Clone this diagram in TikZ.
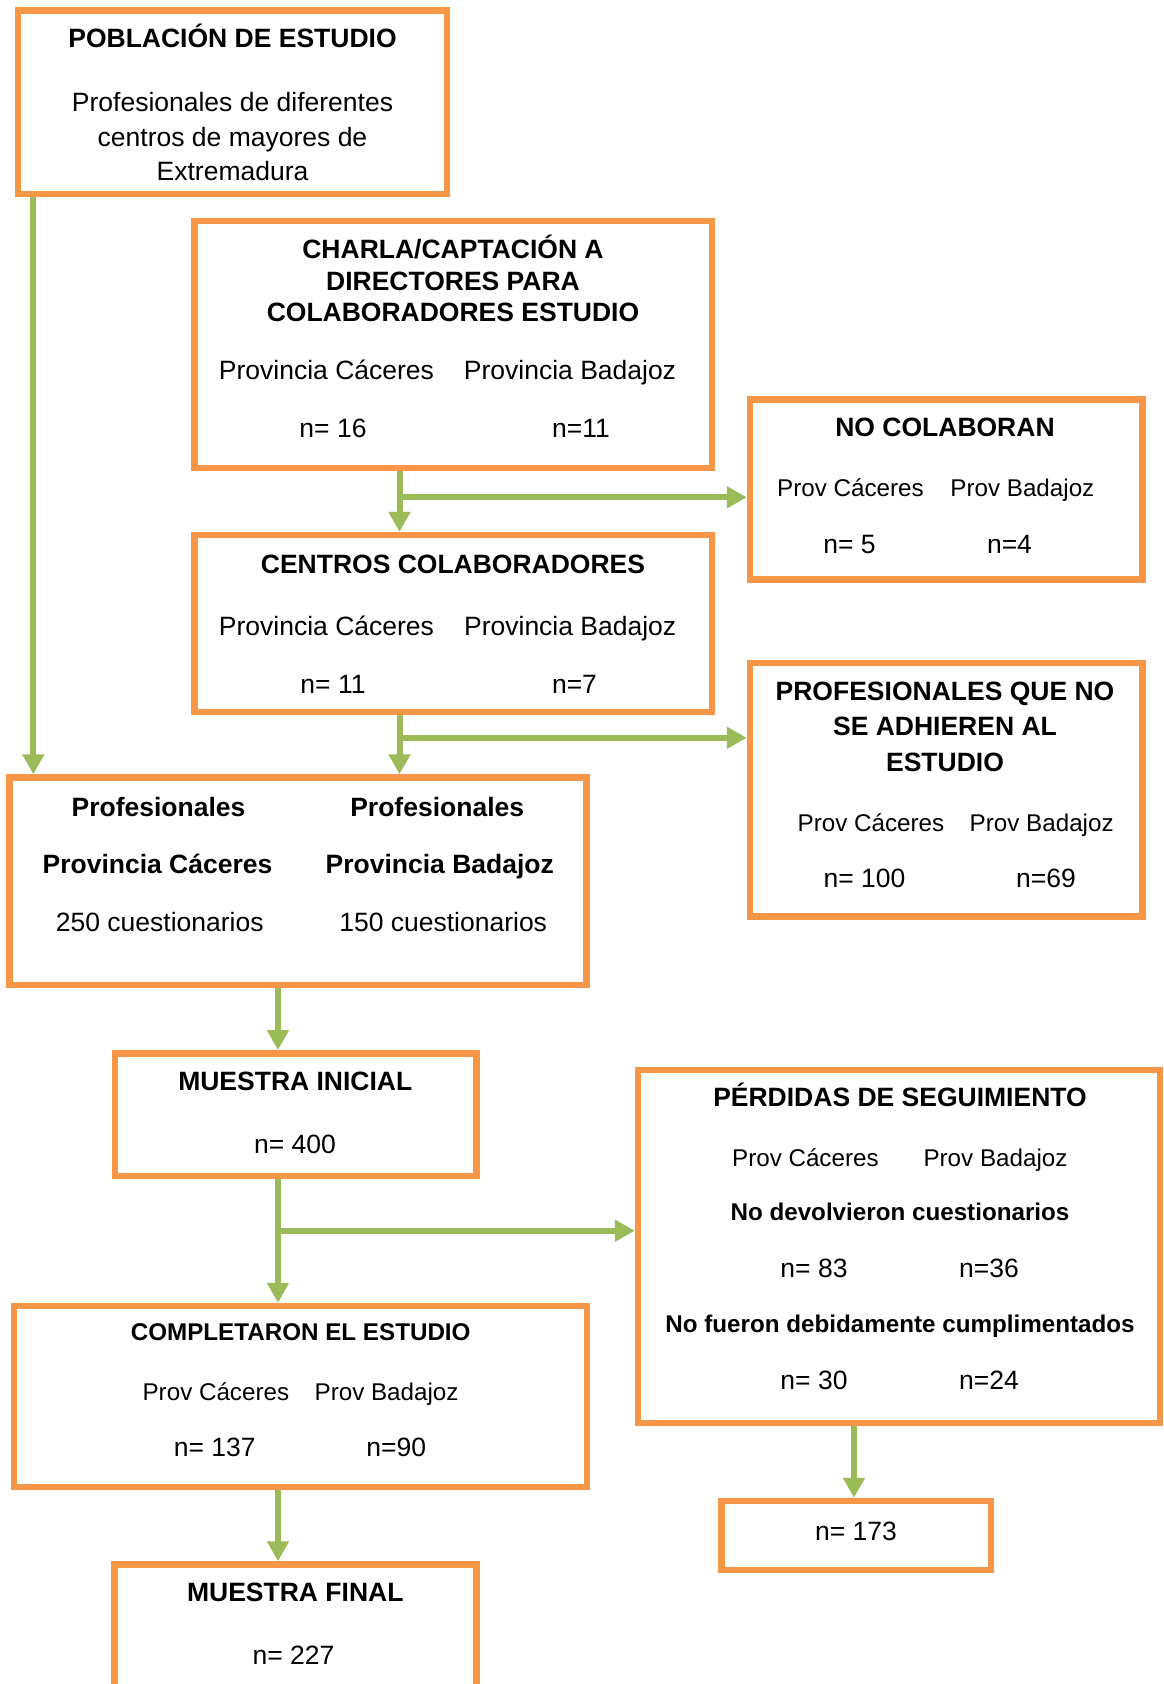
\documentclass[tikz,border=0pt]{standalone}
\usepackage{fontspec}
\setmainfont{Liberation Sans}
\usetikzlibrary{arrows.meta}
\definecolor{boxorange}{HTML}{F79646}
\definecolor{flowgreen}{HTML}{9BBB59}

\begin{document}
\begin{tikzpicture}[x=1pt,y=-1pt,
  box/.style={draw=boxorange,line width=6.5pt,rectangle,inner sep=0pt},
  link/.style={draw=flowgreen,line width=6pt},
  arr/.style={link,-{Triangle[width=21pt,length=20pt]}},
  txt/.style={anchor=base,inner sep=0pt,font=\fontsize{26.5}{31}\selectfont},
  hd/.style={txt,font=\fontsize{26.5}{31}\selectfont\bfseries},
  sm/.style={txt,font=\fontsize{24.2}{29}\selectfont},
  smhd/.style={txt,font=\fontsize{24.2}{29}\selectfont\bfseries}]

\useasboundingbox (0,0) rectangle (1163,1684);
\clip (0,0) rectangle (1163,1684);

% ---------- boxes ----------
\node[box,minimum width=429pt,minimum height=183.5pt]   (pob)     at (232.5,102.25) {};
\node[box,minimum width=517.5pt,minimum height=247pt]   (charla)  at (453.25,344.5) {};
\node[box,minimum width=392.5pt,minimum height=180pt]   (nocol)   at (946.25,489.3) {};
\node[box,minimum width=517.5pt,minimum height=177pt]   (centros) at (453.25,623.5) {};
\node[box,minimum width=392.5pt,minimum height=253.7pt] (adh)     at (946.25,789.85) {};
\node[box,minimum width=577pt,minimum height=207.5pt]   (prof)    at (298.2,881.25) {};
\node[box,minimum width=361.7pt,minimum height=122.7pt] (mi)      at (295.85,1114.65) {};
\node[box,minimum width=522pt,minimum height=353pt]     (perd)    at (899,1246.5) {};
\node[box,minimum width=269.6pt,minimum height=69pt]    (nfin)    at (856.4,1535.5) {};
\node[box,minimum width=573pt,minimum height=181pt]     (comp)    at (300.5,1396.5) {};
\node[box,minimum width=362.2pt,minimum height=155.5pt] (mf)      at (295.6,1642.25) {};

% ---------- texts ----------
\node[hd]  (pobT)  at (232.5,47.5)  {POBLACIÓN DE ESTUDIO};
\node[txt] (pobA)  at (232.5,111.5) {Profesionales de diferentes};
\node[txt] (pobB)  at (232.5,146)   {centros de mayores de};
\node[txt] (pobC)  at (232.5,180.5) {Extremadura};

\node[hd]  (chT1)  at (453,258.5)   {CHARLA/CAPTACIÓN A};
\node[hd]  (chT2)  at (453,290)   {DIRECTORES PARA};
\node[hd]  (chT3)  at (453,321)   {COLABORADORES ESTUDIO};
\node[txt] (chPC)  at (326.5,379) {Provincia Cáceres};
\node[txt] (chPB)  at (570,379)   {Provincia Badajoz};
\node[txt] (chNC)  at (333,437.5)   {n= 16};
\node[txt] (chNB)  at (581,437.5)   {n=11};

\node[hd]  (ncT)   at (945,436.8)   {NO COLABORAN};
\node[sm]  (ncPC)  at (850.5,496.5) {Prov Cáceres};
\node[sm]  (ncPB)  at (1022.4,496.5){Prov Badajoz};
\node[txt] (ncNC)  at (849.5,553.5) {n= 5};
\node[txt] (ncNB)  at (1009.5,553.5){n=4};

\node[hd]  (ceT)   at (453,573.1)   {CENTROS COLABORADORES};
\node[txt] (cePC)  at (326.5,635.4) {Provincia Cáceres};
\node[txt] (cePB)  at (570.2,635.4) {Provincia Badajoz};
\node[txt] (ceNC)  at (333,693.4)   {n= 11};
\node[txt] (ceNB)  at (574.5,693.4) {n=7};

\node[hd]  (adT1)  at (945,700)     {PROFESIONALES QUE NO};
\node[hd]  (adT2)  at (945,735.5)   {SE ADHIEREN AL};
\node[hd]  (adT3)  at (945,771)     {ESTUDIO};
\node[sm]  (adPC)  at (871,831.5)   {Prov Cáceres};
\node[sm]  (adPB)  at (1041.7,831.5){Prov Badajoz};
\node[txt] (adNC)  at (864.5,887.3) {n= 100};
\node[txt] (adNB)  at (1046,887.3)  {n=69};

\node[hd]  (prA1)  at (158.5,816)   {Profesionales};
\node[hd]  (prB1)  at (437.2,816)   {Profesionales};
\node[hd]  (prA2)  at (157.5,873)   {Provincia Cáceres};
\node[hd]  (prB2)  at (439.8,873)   {Provincia Badajoz};
\node[txt] (prA3)  at (159.8,931)   {250 cuestionarios};
\node[txt] (prB3)  at (443.2,931)   {150 cuestionarios};

\node[hd]  (miT)   at (295.3,1090.8) {MUESTRA INICIAL};
\node[txt] (miN)   at (295,1153)     {n= 400};

\node[hd]  (peT)   at (900,1106.8)   {PÉRDIDAS DE SEGUIMIENTO};
\node[sm]  (pePC)  at (805.4,1166.5) {Prov Cáceres};
\node[sm]  (pePB)  at (995.5,1166.5) {Prov Badajoz};
\node[smhd](peD)   at (900,1220.7)   {No devolvieron cuestionarios};
\node[txt] (peDC)  at (814,1277.6)   {n= 83};
\node[txt] (peDB)  at (989,1277.6)   {n=36};
\node[smhd](peF)   at (900,1332.4)   {No fueron debidamente cumplimentados};
\node[txt] (peFC)  at (814,1389.3)   {n= 30};
\node[txt] (peFB)  at (989,1389.3)   {n=24};

\node[txt] (nfN)   at (856,1540.7)   {n= 173};

\node[smhd](coT)   at (300.7,1340.5) {COMPLETARON EL ESTUDIO};
\node[sm]  (coPC)  at (215.9,1400.5) {Prov Cáceres};
\node[sm]  (coPB)  at (386.6,1400.5) {Prov Badajoz};
\node[txt] (coNC)  at (214.8,1456)   {n= 137};
\node[txt] (coNB)  at (396.3,1456)   {n=90};

\node[hd]  (mfT)   at (295.3,1601.8) {MUESTRA FINAL};
\node[txt] (mfN)   at (293.5,1664.5) {n= 227};

% ---------- connectors ----------
\coordinate (xL)  at (33.3,0);
\coordinate (xC)  at (399.5,0);
\coordinate (xM)  at (278,0);
\coordinate (xR)  at (854,0);
\coordinate (br1) at (399.5,497.3);
\coordinate (br2) at (399.5,737.8);
\coordinate (br3) at (278,1230.7);

\draw[arr] (pob.south -| xL) -- (prof.north -| xL);
\draw[arr] (charla.south -| xC) -- (centros.north -| xC);
\draw[arr] (br1) -- (nocol.west |- br1);
\draw[arr] (centros.south -| xC) -- (prof.north -| xC);
\draw[arr] (br2) -- (adh.west |- br2);
\draw[arr] (prof.south -| xM) -- (mi.north -| xM);
\draw[arr] (mi.south -| xM) -- (comp.north -| xM);
\draw[arr] (br3) -- (perd.west |- br3);
\draw[arr] (comp.south -| xM) -- (mf.north -| xM);
\draw[arr] (perd.south -| xR) -- (nfin.north -| xR);
\end{tikzpicture}
\end{document}
